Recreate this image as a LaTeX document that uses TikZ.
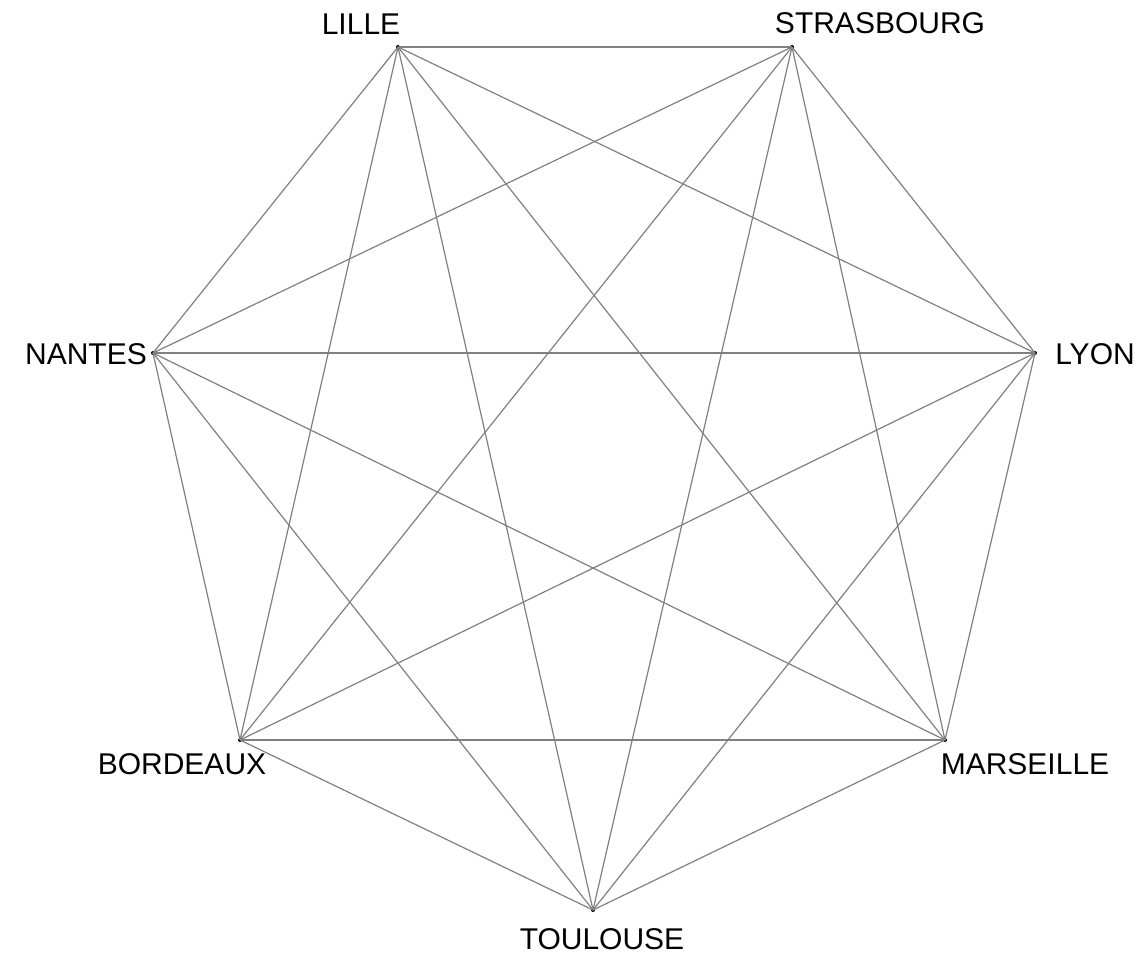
\documentclass[tikz,border=0pt]{standalone}
\usepackage{fontspec}
\setmainfont{Liberation Sans}
\usepackage{tikz}
\usetikzlibrary{positioning}

\begin{document}
\begin{tikzpicture}[x=1pt, y=-1pt,
  city/.style={circle, fill=black, inner sep=0pt, minimum size=4pt},
  lbl/.style={inner sep=0pt, font=\fontsize{30}{36}\selectfont},
  road/.style={draw=black!50, line width=1.2pt}]
\useasboundingbox (0,0) rectangle (1140,955);
% the seven cities
\node[city] (lille)      at (398,47)  {};
\node[city] (strasbourg) at (792,47)  {};
\node[city] (lyon)       at (1035,353) {};
\node[city] (marseille)  at (945,740) {};
\node[city] (toulouse)   at (593,910) {};
\node[city] (bordeaux)   at (240,740) {};
\node[city] (nantes)     at (153,353) {};
% names
\node[lbl] (lille-l)      at (361,24)  {LILLE};
\node[lbl] (strasbourg-l) at (880,23)  {STRASBOURG};
\node[lbl] (lyon-l)       at (1095,354) {LYON};
\node[lbl] (marseille-l)  at (1025,764) {MARSEILLE};
\node[lbl] (toulouse-l)   at (602,939) {TOULOUSE};
\node[lbl] (bordeaux-l)   at (182,764) {BORDEAUX};
\node[lbl] (nantes-l)     at (86,354)  {NANTES};
% every pair is linked
\foreach \a/\others in {lille/{strasbourg,lyon,marseille,toulouse,bordeaux,nantes},
                        strasbourg/{lyon,marseille,toulouse,bordeaux,nantes},
                        lyon/{marseille,toulouse,bordeaux,nantes},
                        marseille/{toulouse,bordeaux,nantes},
                        toulouse/{bordeaux,nantes},
                        bordeaux/{nantes}}
  \foreach \b in \others
    \draw[road] (\a.center) -- (\b.center);
\end{tikzpicture}
\end{document}
